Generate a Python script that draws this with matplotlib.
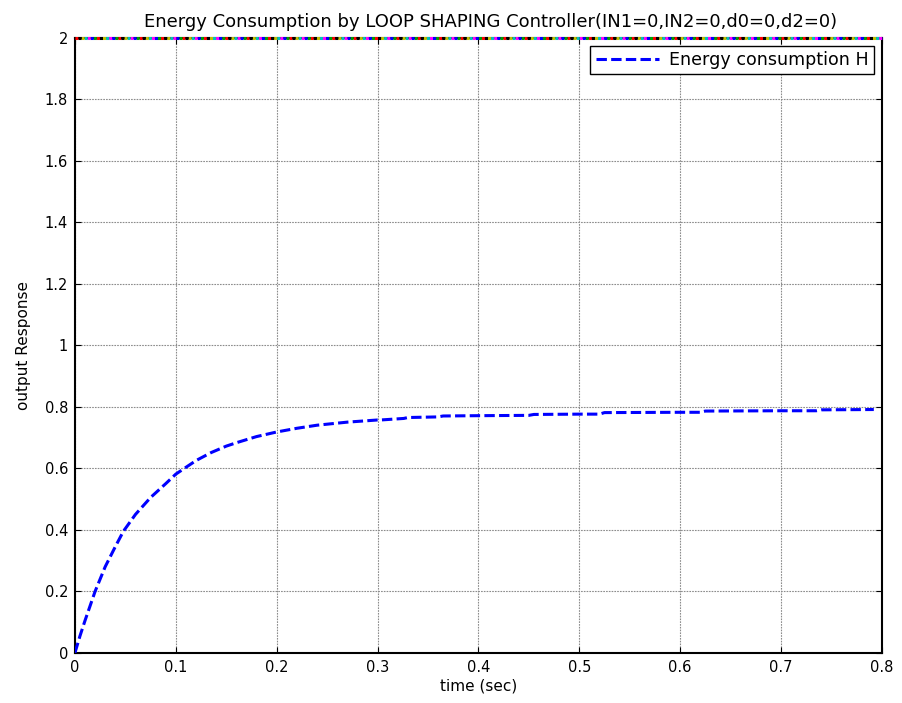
import matplotlib
matplotlib.use("Agg")
import matplotlib.pyplot as plt

plt.rcParams['font.family'] = ['DejaVu Sans']

# Energy consumption response H over time
time_s = [0.0, 0.005, 0.01, 0.02, 0.03, 0.04, 0.048, 0.06, 0.075, 0.09, 0.1, 0.12,
          0.135, 0.15, 0.161, 0.18, 0.2, 0.22, 0.24, 0.27, 0.3, 0.303, 0.326, 0.33,
          0.36, 0.365, 0.4, 0.45, 0.455, 0.5, 0.52, 0.525, 0.6, 0.62, 0.625, 0.7,
          0.735, 0.74, 0.792]
energy_h = [0.0, 0.055, 0.105, 0.2, 0.28, 0.345, 0.395, 0.45, 0.505, 0.55, 0.581, 0.625,
            0.651, 0.672, 0.684, 0.703, 0.718, 0.73, 0.74, 0.75, 0.757, 0.757, 0.762, 0.765,
            0.767, 0.77, 0.771, 0.772, 0.775, 0.776, 0.776, 0.781, 0.782, 0.782, 0.786, 0.787,
            0.787, 0.79, 0.791]

# Saturated reference traces sitting on the upper limit
limit_time = [0.0, 0.8]
limit_value = [2.0, 2.0]
limit_colors = ['#ff0000', '#00a000', '#0000ff', '#ff00ff', '#00c0c0', '#c0c000', '#000000']

x_ticks = [0, 0.1, 0.2, 0.3, 0.4, 0.5, 0.6, 0.7, 0.8]
y_ticks = [0, 0.2, 0.4, 0.6, 0.8, 1, 1.2, 1.4, 1.6, 1.8, 2]

fig = plt.figure(figsize=(9.02, 7.03), dpi=100)
ax = fig.add_axes([0.0831, 0.0714, 0.8946, 0.875])

for i, c in enumerate(limit_colors):
    ax.plot(limit_time, limit_value, color=c, lw=2.2,
            linestyle=(i * 1.0, (1, 6)), clip_on=False, zorder=3)

ax.plot(time_s, energy_h, color='#0000ff', lw=2.2, linestyle=(0, (3.4, 1.4)),
        label='Energy consumption H', zorder=4)

ax.set_xlim(0, 0.8)
ax.set_ylim(0, 2)
ax.set_xticks(x_ticks)
ax.set_xticklabels(['0', '0.1', '0.2', '0.3', '0.4', '0.5', '0.6', '0.7', '0.8'])
ax.set_yticks(y_ticks)
ax.set_yticklabels(['0', '0.2', '0.4', '0.6', '0.8', '1', '1.2', '1.4', '1.6', '1.8', '2'])
ax.tick_params(direction='in', top=True, right=True, length=4, width=0.8,
               labelsize=10.5, pad=5)
ax.grid(True, color='#8c8c8c', linestyle=(0, (1.5, 1)), lw=0.8)
for s in ax.spines.values():
    s.set_linewidth(1.5)
    s.set_color('black')

ax.set_xlabel('time (sec)', fontsize=11, labelpad=3)
ax.set_ylabel('output Response', fontsize=11, labelpad=10)
ax.set_title('Energy Consumption by LOOP SHAPING Controller(IN1=0,IN2=0,d0=0,d2=0)',
             fontsize=13, pad=8, x=0.515)

leg = ax.legend(loc='upper right', fontsize=12.6, fancybox=False, framealpha=1,
                edgecolor='black', handlelength=3.6, handletextpad=0.6,
                borderaxespad=0.45, borderpad=0.3)
leg.get_frame().set_linewidth(1.0)

fig.savefig('out.png', dpi=100)
